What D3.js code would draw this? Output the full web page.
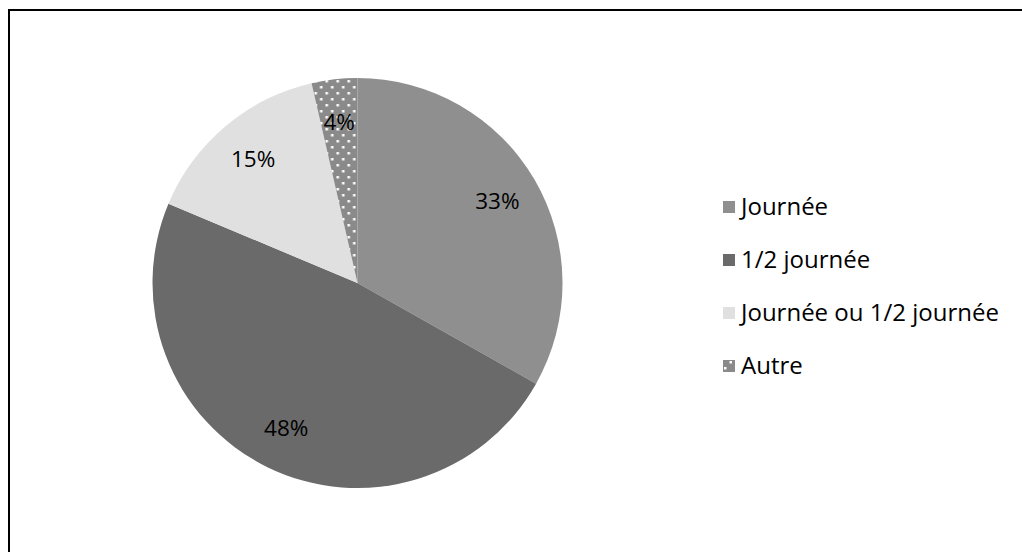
<!DOCTYPE html>
<html><head><meta charset="utf-8">
<script src="https://cdn.jsdelivr.net/npm/d3@7"></script>
<style>html,body{margin:0;padding:0;background:#fff;}svg{display:block;}</style>
</head><body>
<svg id="chart" width="1022" height="552"></svg>
<script>
const categories = ["Journée", "1/2 journée", "Journée ou 1/2 journée", "Autre"];
const values = [33.2, 48.2, 15.1, 3.6];
const labels = ["33%", "48%", "15%", "4%"];
const colors = ["#8f8f8f", "#6a6a6a", "#e0e0e0", "url(#dots)"];

const FONT = "'Open Sans', 'Noto Sans', sans-serif";
const svg = d3.select("#chart");
const defs = svg.append("defs");
const pat = defs.append("pattern").attr("id", "dots").attr("patternUnits", "userSpaceOnUse")
  .attr("width", 11).attr("height", 12);
pat.append("rect").attr("width", 11).attr("height", 12).attr("fill", "#8a8a8a");
pat.append("rect").attr("x", 1).attr("y", 1).attr("width", 2.5).attr("height", 2.5).attr("fill", "#fff");
pat.append("rect").attr("x", 6.5).attr("y", 7).attr("width", 2.5).attr("height", 2.5).attr("fill", "#fff");

svg.append("rect").attr("x", 9).attr("y", 10).attr("width", 1100).attr("height", 600)
  .attr("fill", "none").attr("stroke", "#000").attr("stroke-width", 2);

const cx = 357.5, cy = 283, R = 205;
const pie = d3.pie().sort(null).value(d => d)(values);
const arc = d3.arc().innerRadius(0).outerRadius(R);
const labelArc = d3.arc().innerRadius(124).outerRadius(200);

const g = svg.append("g").attr("transform", `translate(${cx},${cy})`);
g.selectAll("path").data(pie).join("path")
  .attr("d", arc).attr("fill", (d, i) => colors[i]);

g.selectAll("text").data(pie).join("text")
  .attr("transform", d => `translate(${labelArc.centroid(d)})`)
  .attr("text-anchor", "middle").attr("dy", "0.35em")
  .attr("font-family", FONT).attr("font-size", 22.5)
  .attr("fill", "#000").text((d, i) => labels[i]);

const y = d3.scalePoint().domain(categories).range([207, 366]);
const leg = svg.append("g").selectAll("g").data(categories).join("g")
  .attr("transform", d => `translate(723,${y(d)})`);
leg.append("rect").attr("x", 0).attr("y", -6).attr("width", 12).attr("height", 12)
  .attr("fill", (d, i) => colors[i]);
leg.append("text").attr("x", 18).attr("dy", "0.35em")
  .attr("font-family", FONT).attr("font-size", 24)
  .attr("fill", "#000").text(d => d);
</script>
</body></html>
